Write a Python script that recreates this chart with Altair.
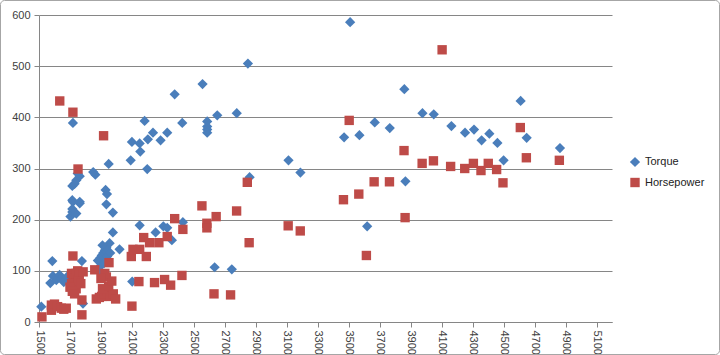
import altair as alt
import pandas as pd

# Torque series (rpm, value)
torque_rpm = [1515, 1573, 1590, 1612, 1633, 1644, 1586, 1660, 1680,
              1703, 1715, 1741, 1719, 1763, 1715, 1763, 1715, 1715, 1741, 1763, 1719, 1777, 1730, 1750, 1784,
              1864, 1850, 1930, 1939, 1950, 1935, 1977, 1977, 1956, 2020,
              1880, 1895, 1905, 1915, 1925, 1935, 1945, 1900, 1920, 1940, 1960, 1890, 1910,
              2092, 2100, 2150, 2154, 2182, 2199, 2203, 2236, 2285, 2328, 2376, 2425, 2556,
              2586, 2586, 2586, 2586, 2651, 2777, 2849, 2860,
              2150, 2253, 2303, 2328, 2429, 2358, 2102, 2634, 2745,
              3111, 3188, 3470, 3509, 3569, 3619, 3668, 3765, 3859, 3866, 3976, 4049,
              4163, 4251, 4309, 4358, 4408, 4460, 4500, 4610, 4649, 4864]
torque_val = [30, 76, 90, 82, 92, 85, 119, 78, 88,
              206, 215, 212, 235, 232, 238, 235, 221, 266, 277, 285, 389, 119, 270, 290, 36,
              288, 293, 258, 250, 309, 230, 214, 175, 154, 142,
              120, 125, 130, 135, 140, 145, 120, 110, 115, 128, 135, 100, 150,
              316, 352, 349, 333, 393, 299, 357, 370, 355, 370, 445, 389, 465,
              392, 382, 376, 370, 404, 408, 505, 283,
              189, 175, 187, 184, 195, 160, 79, 107, 103,
              316, 292, 361, 586, 365, 187, 390, 379, 455, 275, 408, 406,
              383, 370, 376, 355, 368, 350, 316, 432, 360, 340]

# Horsepower series (rpm, value)
hp_rpm = [1519, 1580, 1580, 1600, 1620, 1644, 1676, 1660, 1634, 1719, 1752, 1917, 1719,
          1710, 1720, 1730, 1740, 1750, 1760, 1710, 1725, 1740, 1755, 1770, 1700, 1715, 1730, 1785, 1777, 1777,
          1860, 1935, 1952, 1870, 1890, 1905, 1920, 1940, 1960, 1980, 1995, 1910, 1950, 1970, 1925, 1900,
          2100, 2096, 2107, 2150, 2145, 2176, 2193, 2214, 2246, 2274, 2311, 2328, 2350, 2376, 2423, 2429,
          2552, 2584, 2584, 2630, 2644, 2737, 2776, 2845, 2857, 3109, 3187,
          3466, 3503, 3565, 3614, 3664, 3763, 3857, 3864, 3974, 4047, 4103, 4158, 4249, 4305,
          4354, 4401, 4455, 4496, 4608, 4647, 4860]
hp_val = [10, 33, 23, 35, 30, 27, 27, 25, 432, 410, 299, 364, 129,
          95, 90, 85, 95, 100, 92, 75, 70, 65, 80, 75, 68, 60, 55, 98, 43, 14,
          102, 88, 116, 45, 48, 50, 55, 60, 50, 55, 45, 65, 70, 80, 95, 85,
          31, 128, 142, 142, 79, 165, 128, 155, 77, 155, 83, 167, 72, 202, 91, 181,
          227, 193, 184, 55, 206, 53, 217, 273, 155, 188, 178,
          239, 394, 250, 130, 274, 274, 335, 204, 310, 315, 532, 304, 300, 310,
          296, 310, 298, 272, 380, 321, 316]

x_ticks = list(range(1500, 5101, 200))
y_ticks = list(range(0, 601, 100))
series_names = ["Torque", "Horsepower"]
series_colors = ["#4A7EBB", "#BE4B48"]
series_shapes = ["diamond", "square"]

df = pd.concat([
    pd.DataFrame({"rpm": torque_rpm, "value": torque_val, "series": "Torque"}),
    pd.DataFrame({"rpm": hp_rpm, "value": hp_val, "series": "Horsepower"}),
], ignore_index=True)

points = alt.Chart(df).mark_point(filled=True, opacity=1, size=95).encode(
    x=alt.X("rpm:Q", scale=alt.Scale(domain=[1500, 5200], nice=False, zero=False),
            axis=alt.Axis(values=x_ticks, title=None, grid=False, labelAngle=90,
                          tickSize=5, labelPadding=3, format="d")),
    y=alt.Y("value:Q", scale=alt.Scale(domain=[0, 600], nice=False),
            axis=alt.Axis(values=y_ticks, title=None, grid=True, tickSize=5, labelPadding=4)),
    color=alt.Color("series:N", scale=alt.Scale(domain=series_names, range=series_colors),
                    legend=alt.Legend(title=None, orient="none", legendX=590, legendY=141,
                                      symbolSize=60, labelFontSize=11, rowPadding=8,
                                      labelColor="#222222", labelFont="Liberation Sans")),
    shape=alt.Shape("series:N", scale=alt.Scale(domain=series_names, range=series_shapes),
                    legend=alt.Legend(title=None, orient="none", legendX=590, legendY=141,
                                      symbolSize=60, labelFontSize=11, rowPadding=8,
                                      labelColor="#222222", labelFont="Liberation Sans")),
    size=alt.Size("series:N", scale=alt.Scale(domain=series_names, range=[105, 88]), legend=None),
)

border = alt.Chart(pd.DataFrame({"a": [0]})).mark_rect(
    fill=None, stroke="#A6A6A6", strokeWidth=1, cornerRadius=4
).encode(x=alt.value(-38.5), x2=alt.value(680.5), y=alt.value(-14.5), y2=alt.value(339.5))

chart = alt.layer(border, points).properties(
    width=573, height=307,
    autosize=alt.AutoSizeParams(type="none"),
    padding={"left": 39, "top": 15, "right": 108, "bottom": 33},
).configure_view(stroke=None).configure_axis(
    domainColor="#868686", tickColor="#868686", gridColor="#868686",
    labelColor="#404040", labelFont="Liberation Sans", labelFontSize=11,
).configure_axisX(grid=False)

chart.save("out.html", embed_options={"renderer": "svg", "actions": False})
